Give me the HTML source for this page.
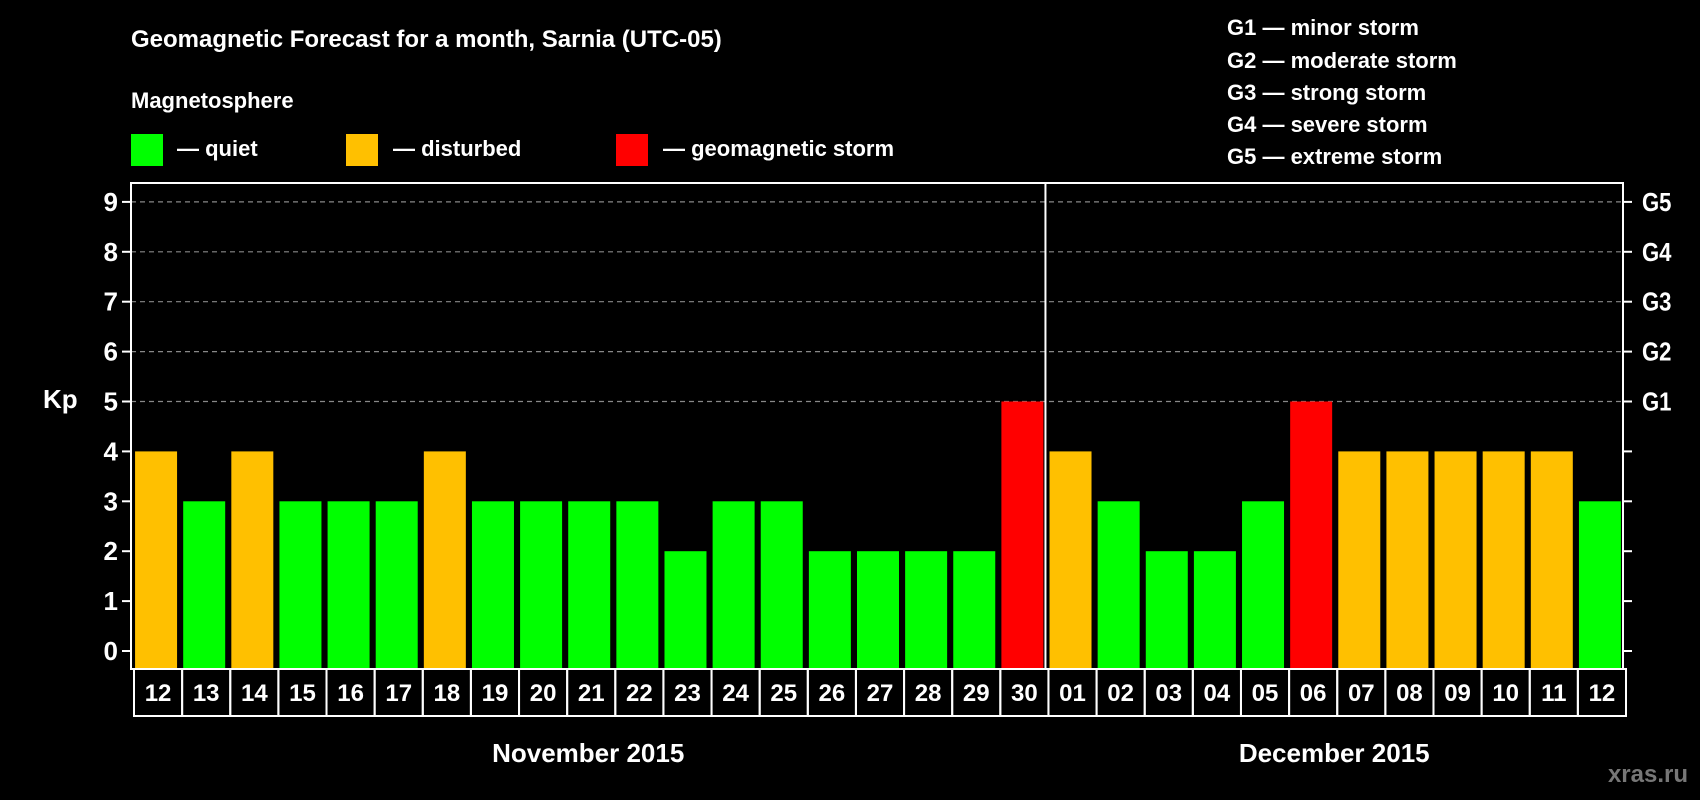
<!DOCTYPE html>
<html><head><meta charset="utf-8"><style>
html,body{margin:0;padding:0;background:#000;}
svg{display:block;font-family:"Liberation Sans",sans-serif;font-weight:bold;}
</style></head><body>
<svg id="chart" width="1700" height="800" viewBox="0 0 1700 800">
<rect width="1700" height="800" fill="#000"/>
<text x="131" y="47" fill="#fff" font-size="24">Geomagnetic Forecast for a month, Sarnia (UTC-05)</text>
<text x="131" y="108" fill="#fff" font-size="22">Magnetosphere</text>
<g><rect x="131" y="134" width="32" height="32" fill="#00ff00"/><text x="177" y="156" fill="#fff" font-size="22">— quiet</text></g>
<g><rect x="346" y="134" width="32" height="32" fill="#ffc000"/><text x="393" y="156" fill="#fff" font-size="22">— disturbed</text></g>
<g><rect x="616" y="134" width="32" height="32" fill="#ff0000"/><text x="663" y="156" fill="#fff" font-size="22">— geomagnetic storm</text></g>
<g fill="#fff" font-size="22">
<text x="1227" y="35">G1 — minor storm</text>
<text x="1227" y="68">G2 — moderate storm</text>
<text x="1227" y="100">G3 — strong storm</text>
<text x="1227" y="132">G4 — severe storm</text>
<text x="1227" y="164">G5 — extreme storm</text>
</g>
<text x="43" y="408" fill="#fff" font-size="26">Kp</text>
<g id="grid"></g><g id="bars"></g><g id="axes"></g>
<text x="1688" y="782" fill="#777" font-size="24" text-anchor="end">xras.ru</text>
</svg>
<script>
const dayLabels=["12","13","14","15","16","17","18","19","20","21","22","23","24","25","26","27","28","29","30","01","02","03","04","05","06","07","08","09","10","11","12"];
const kpValues=[4,3,4,3,3,3,4,3,3,3,3,2,3,3,2,2,2,2,5,4,3,2,2,3,5,4,4,4,4,4,3];
const yTicks=[0,1,2,3,4,5,6,7,8,9];
const gLabels=["","","","","","G1","G2","G3","G4","G5"];
const monthLabels=["November 2015","December 2015"];
const monthSplit=19;
const NS="http://www.w3.org/2000/svg";
const L=131,R=1623,T=183,B=669,Y0=651,UNIT=49.9;
const n=dayLabels.length, slot=(R-L)/n;
const y=v=>Y0-v*UNIT;
const xs=i=>L+i*slot;
function mk(p,tag,a){const e=document.createElementNS(NS,tag);for(const k in a)e.setAttribute(k,a[k]);p.appendChild(e);return e;}
const grid=document.getElementById('grid'),bars=document.getElementById('bars'),axes=document.getElementById('axes');
yTicks.forEach(v=>{
  if(v>=5){const g=mk(grid,'line',{x1:L,x2:R,y1:y(v),y2:y(v),stroke:'#888','stroke-width':1.2,'stroke-dasharray':'5,4'});
  
  }
  const t=mk(axes,'line',{x1:L-9,x2:L,y1:y(v),y2:y(v),stroke:'#fff','stroke-width':2});
  
  
  const lb=mk(axes,'text',{x:118,y:y(v)+9,fill:'#fff','font-size':26,'text-anchor':'end'});lb.textContent=v;
  
  
  const t2=mk(axes,'line',{x1:R,x2:R+9,y1:y(v),y2:y(v),stroke:'#fff','stroke-width':2});
  
  
  if(gLabels[v]){const g=mk(axes,'text',{x:1642,y:y(v)+9,fill:'#fff','font-size':26,transform:'translate('+(1642*0.15)+',0) scale(0.85,1)'});g.textContent=gLabels[v];
  
  }
});
kpValues.forEach((v,i)=>{
  const c=v>=5?'#ff0000':(v>=4?'#ffc000':'#00ff00');
  const cx=xs(i)+slot/2+1;
  const r=mk(bars,'rect',{x:cx-21,y:y(v),width:42,height:B-y(v),fill:c});
  
  
  const bx=mk(axes,'rect',{x:xs(i)+3,y:B,width:slot,height:47,fill:'none',stroke:'#fff','stroke-width':2});
  
  
  const tl=mk(axes,'text',{x:xs(i)+3+slot/2,y:B+32,fill:'#fff','font-size':24,'text-anchor':'middle'});tl.textContent=dayLabels[i];
  
  
});
const fr=mk(axes,'rect',{x:L,y:T,width:R-L,height:B-T,fill:'none',stroke:'#fff','stroke-width':2});


const sep=mk(axes,'line',{x1:xs(monthSplit),x2:xs(monthSplit),y1:T,y2:B,stroke:'#fff','stroke-width':2});


[[0,monthSplit],[monthSplit,n]].forEach((r,k)=>{
  const m=mk(axes,'text',{x:(xs(r[0])+xs(r[1]))/2,y:762,fill:'#fff','font-size':26,'text-anchor':'middle'});m.textContent=monthLabels[k];
  
  
});
</script>
</body></html>
